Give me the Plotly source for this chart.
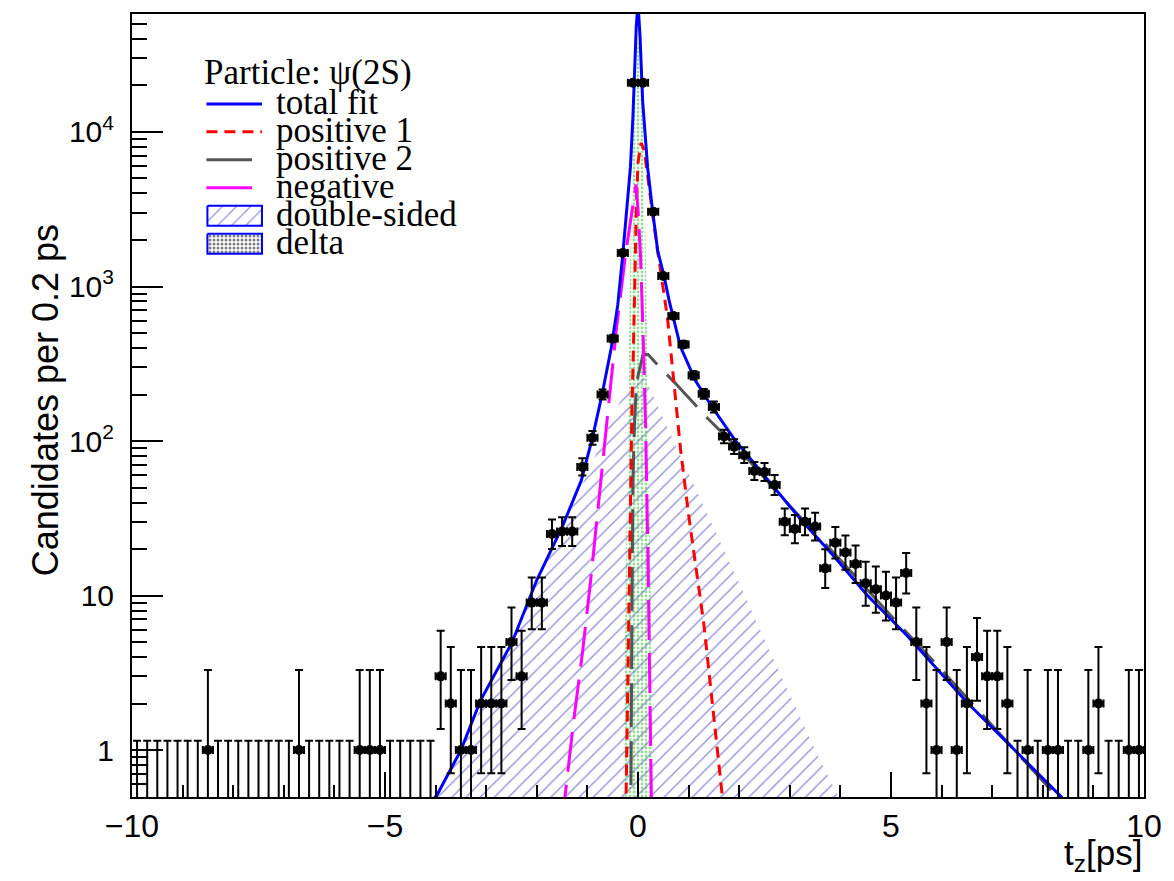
import math
import plotly.graph_objects as go

# ---------------- data ----------------
BIN_LO, BIN_W, N_BINS = -10.0, 0.2, 100
counts = [0, 0, 0, 0, 0, 0, 0, 1, 0, 0,
          0, 0, 0, 0, 0, 0, 1, 0, 0, 0,
          0, 0, 1, 1, 1, 0, 0, 0, 0, 0,
          3, 2, 1, 1, 2, 2, 2, 5, 3, 9,
          9, 25, 26, 26, 68, 105, 200, 460, 1650, 20800,
          20800, 3050, 1170, 645, 422, 266, 202, 166, 107, 92,
          81, 64, 63, 52, 30, 27, 30, 28, 15, 22,
          19, 16, 12, 11, 10, 9, 14, 5, 2, 1,
          5, 1, 2, 4, 3, 3, 2, 0, 1, 0,
          1, 1, 0, 0, 1, 2, 0, 0, 1, 1]

# total fit
tf_x = [-4.05, -3.975, -3.5, -3.11, -2.49, -2.0, -1.5, -1.12, -0.9, -0.71, -0.53, -0.4, -0.3,
        -0.2, -0.15, -0.1, -0.07, -0.035, 0.0, 0.04, 0.092, 0.15, 0.19, 0.288, 0.39, 0.52,
        0.614, 0.84, 1.137, 1.465, 1.92, 2.575, 3.23, 3.88, 4.535, 5.32, 6.5, 8.36, 8.45]
tf_y = [0.48, 0.51, 1.0, 2.1, 4.97, 12.6, 27.7, 55.6, 105, 200, 398, 760, 1620,
        3550, 5900, 12600, 26300, 47900, 69000, 41700, 15800, 8900, 5900, 3090, 1700, 1150,
        813, 407, 245, 166, 101, 55.6, 30.7, 17.8, 10.0, 5.5, 2.04, 0.50, 0.46]
# positive 1
p1_x = [-0.24, -0.2, -0.16, -0.12, -0.09, -0.06, -0.03, 0.0, 0.06, 0.124, 0.37, 0.582,
        0.712, 0.843, 1.006, 1.17, 1.30, 1.667, 1.72]
p1_y = [0.4, 3.2, 32, 160, 400, 1410, 3550, 6300, 8500, 7600, 1860, 630,
        234, 87, 32.2, 13.2, 6.6, 0.50, 0.35]
# positive 2
p2_x = [-0.16, -0.14, -0.12, -0.1, -0.07, -0.04, 0.0, 0.05, 0.1, 0.2, 0.45, 0.78, 1.37,
        2.0, 3.0, 4.0, 5.0, 6.0, 7.0, 8.0, 8.4]
p2_y = [0.25, 0.5, 7.9, 56, 126, 204, 263, 316, 363, 363, 295, 229, 141,
        88, 38, 17, 7.4, 3.3, 1.45, 0.63, 0.45]
# negative
ng_x = [-1.5, -1.44, -1.27, -1.10, -0.935, -0.77, -0.6, -0.43, -0.25, -0.12, -0.04, 0.0,
        0.05, 0.1, 0.15, 0.2, 0.25, 0.28]
ng_y = [0.33, 0.51, 1.56, 4.2, 12.6, 43.4, 148, 519, 1580, 3160, 4570, 3160,
        1580, 500, 126, 15.8, 0.5, 0.2]
# double-sided
ds_x = [-4.2, -4.0, -3.5, -3.0, -2.5, -2.0, -1.5, -1.0, -0.5, -0.25, -0.1, 0.0,
        0.1, 0.25, 0.5, 1.0, 1.5, 2.0, 2.5, 3.0, 3.5, 4.0, 4.2]
ds_y = [0.30, 0.49, 1.0, 2.2, 5.0, 12, 27, 62, 140, 215, 265, 280,
        265, 215, 140, 62, 27, 12, 5.2, 2.3, 1.0, 0.47, 0.31]
# delta
dl_x = [-0.32, -0.25, -0.2, -0.15, -0.1, -0.05, 0.0, 0.05, 0.1, 0.15, 0.2, 0.25, 0.32]
dl_y = [0.2, 8.0, 180, 1900, 10000, 28000, 40000, 28000, 10000, 1900, 180, 8.0, 0.2]

y_tickvals = [1, 10, 100, 1000, 10000]
y_ticktext = ["1", "10", "10<sup>2</sup>", "10<sup>3</sup>", "10<sup>4</sup>"]
x_tickvals = [-10, -5, 0, 5, 10]
x_ticktext = ["\u221210", "\u22125", "0", "5", "10"]

legend_labels = ["total fit", "positive 1", "positive 2", "negative", "double-sided", "delta"]

# ---------------- styling constants ----------------
Y_MIN, Y_MAX = 0.497, 58000
ZERO_ERR_UP = 1.1479
ZERO_DRAW = 0.3
W, H = 1174, 881
L, R, T, B = 132, 22, 13, 84
SANS = "Liberation Sans, Arial, Helvetica, sans-serif"
SERIF = "Liberation Serif, Times New Roman, serif"
HATCH = "rgba(40,40,180,1)"


def pois_cdf(n, mu):
    if mu <= 0:
        return 1.0
    s = 0.0
    lm = math.log(mu)
    for k in range(n + 1):
        s += math.exp(-mu + k * lm - math.lgamma(k + 1))
    return s


def pois_interval(n):
    a = 0.158655
    if n == 0:
        return 0.0, ZERO_ERR_UP
    if n > 150:
        return n - math.sqrt(n), n + math.sqrt(n) + 1
    lo, hi = 0.0, float(n)
    for _ in range(60):
        m = 0.5 * (lo + hi)
        if 1 - pois_cdf(n - 1, m) > a:
            hi = m
        else:
            lo = m
    low = 0.5 * (lo + hi)
    lo, hi = float(n), n + 10 * math.sqrt(n) + 10
    for _ in range(60):
        m = 0.5 * (lo + hi)
        if pois_cdf(n, m) > a:
            lo = m
        else:
            hi = m
    return low, 0.5 * (lo + hi)


centers = [BIN_LO + BIN_W * (k + 0.5) for k in range(N_BINS)]
nz_x, nz_y, nz_up, nz_dn = [], [], [], []
z_x = []
for c, n in zip(centers, counts):
    if n > 0:
        lo, hi = pois_interval(n)
        nz_x.append(c)
        nz_y.append(n)
        nz_up.append(hi - n)
        nz_dn.append(n - lo)
    else:
        z_x.append(c)

fig = go.Figure()

# double-sided hatched
fig.add_trace(go.Scatter(
    x=ds_x, y=ds_y, mode="lines", fill="toself",
    line=dict(width=0, color="rgba(0,0,0,0)"), fillcolor="rgba(0,0,0,0)",
    fillpattern=dict(shape="/", fgcolor=HATCH, bgcolor="rgba(0,0,0,0)",
                     size=10, solidity=0.14),
    hoverinfo="skip", showlegend=False))
# delta dotted
fig.add_trace(go.Scatter(
    x=dl_x, y=dl_y, mode="lines", fill="toself",
    line=dict(width=0, color="rgba(0,0,0,0)"), fillcolor="rgba(0,0,0,0)",
    fillpattern=dict(shape=".", fgcolor="#30b830", bgcolor="rgba(0,0,0,0)",
                     size=4, solidity=0.4),
    hoverinfo="skip", showlegend=False))
# curves
fig.add_trace(go.Scatter(x=p2_x, y=p2_y, mode="lines",
                         line=dict(color="#555555", width=3, dash="44px,14px"),
                         hoverinfo="skip", showlegend=False))
fig.add_trace(go.Scatter(x=p1_x, y=p1_y, mode="lines",
                         line=dict(color="#ff0000", width=3, dash="11px,7px"),
                         hoverinfo="skip", showlegend=False))
fig.add_trace(go.Scatter(x=ng_x, y=ng_y, mode="lines",
                         line=dict(color="#ff00ff", width=3, dash="40px,13px"),
                         hoverinfo="skip", showlegend=False))
fig.add_trace(go.Scatter(x=tf_x, y=tf_y, mode="lines",
                         line=dict(color="#0000ff", width=3),
                         hoverinfo="skip", showlegend=False))
# data: empty bins (error bar only)
fig.add_trace(go.Scatter(
    x=z_x, y=[ZERO_DRAW] * len(z_x), mode="markers",
    marker=dict(size=1, color="rgba(0,0,0,0)"),
    error_y=dict(type="data", symmetric=False,
                 array=[ZERO_ERR_UP - ZERO_DRAW] * len(z_x), arrayminus=[0] * len(z_x),
                 color="black", thickness=2, width=4),
    hoverinfo="skip", showlegend=False))
# data: filled bins
fig.add_trace(go.Scatter(
    x=nz_x, y=nz_y, mode="markers",
    marker=dict(size=10, color="black", symbol="circle"),
    error_y=dict(type="data", symmetric=False, array=nz_up, arrayminus=nz_dn,
                 color="black", thickness=2, width=4),
    error_x=dict(type="constant", value=BIN_W / 2, color="black", thickness=2, width=4),
    hoverinfo="skip", showlegend=False))

# ---------------- manual legend (pixel coordinates on overlay axes) ----------------
leg_text_x = 275
leg_rows = [103, 131, 159, 187, 215, 243]
leg_line_styles = [
    dict(color="#0000ff", width=3, dash="solid", x1=263),
    dict(color="#ff0000", width=3, dash="11px,7px", x1=263),
    dict(color="#555555", width=3, dash="solid", x1=253),
    dict(color="#ff00ff", width=3, dash="solid", x1=253),
]
shapes = []
for yy, st in zip(leg_rows[:4], leg_line_styles):
    shapes.append(dict(type="line", xref="x2", yref="y2", x0=207, x1=st["x1"], y0=yy, y1=yy,
                       line=dict(color=st["color"], width=st["width"], dash=st["dash"])))

box_specs = [(leg_rows[4], "/", HATCH, 10, 0.12),
             (leg_rows[5], ".", "black", 4, 0.45)]
for yy, shp, col, sz, sol in box_specs:
    fig.add_trace(go.Scatter(
        x=[208, 263, 263, 208, 208], y=[yy - 10, yy - 10, yy + 10, yy + 10, yy - 10],
        xaxis="x2", yaxis="y2", mode="lines", fill="toself",
        line=dict(color="#0000ff", width=2), fillcolor="rgba(0,0,0,0)",
        fillpattern=dict(shape=shp, fgcolor=col, bgcolor="white", size=sz, solidity=sol),
        hoverinfo="skip", showlegend=False))

annotations = [dict(text="Particle: \u03c8(2S)", xref="x2", yref="y2", x=203, y=72,
                    xanchor="left", yanchor="middle", showarrow=False,
                    font=dict(family=SERIF, size=35, color="black"))]
for yy, lab in zip(leg_rows, legend_labels):
    annotations.append(dict(text=lab, xref="x2", yref="y2", x=leg_text_x, y=yy - 1,
                            xanchor="left", yanchor="middle", showarrow=False,
                            font=dict(family=SERIF, size=35, color="black")))

pw, ph = W - L - R, H - T - B
annotations.append(dict(text="t<sub>z</sub>[ps]", xref="paper", yref="paper",
                        x=1.0, y=(797 - 855) / ph, xanchor="right", yanchor="middle",
                        showarrow=False, font=dict(family=SANS, size=35, color="black")))
annotations.append(dict(text="Candidates per 0.2 ps", xref="paper", yref="paper",
                        x=(45 - L) / pw, y=(797 - 400) / ph, xanchor="center", yanchor="middle",
                        textangle=-90, showarrow=False,
                        font=dict(family=SANS, size=36, color="black")))

minor_y = [m * 10 ** e for e in range(-1, 5) for m in range(2, 10)
           if Y_MIN < m * 10 ** e < Y_MAX]

fig.update_layout(
    width=W, height=H, autosize=False,
    margin=dict(l=L, r=R, t=T, b=B, pad=0),
    paper_bgcolor="white", plot_bgcolor="white",
    font=dict(family=SANS, size=30, color="black"),
    xaxis=dict(range=[-10, 10], tickmode="array", tickvals=x_tickvals, ticktext=x_ticktext,
               ticks="inside", ticklen=25, tickwidth=2, tickcolor="black",
               minor=dict(dtick=1, tick0=0, ticks="inside", ticklen=12, tickwidth=1.5,
                          tickcolor="black", showgrid=False),
               showline=True, linewidth=2, linecolor="black", mirror=True,
               showgrid=False, zeroline=False, ticklabelstandoff=0,
               tickfont=dict(family=SANS, size=32, color="black")),
    yaxis=dict(type="log", range=[math.log10(Y_MIN), math.log10(Y_MAX)],
               tickmode="array", tickvals=y_tickvals, ticktext=y_ticktext,
               ticks="inside", ticklen=31, tickwidth=2, tickcolor="black",
               minor=dict(tickmode="array", tickvals=minor_y, ticks="inside", ticklen=15,
                          tickwidth=2, tickcolor="black", showgrid=False),
               showline=True, linewidth=2, linecolor="black", mirror=True,
               showgrid=False, zeroline=False, ticklabelstandoff=10,
               tickfont=dict(family=SANS, size=30, color="black")),
    xaxis2=dict(overlaying="x", anchor="y2", range=[L, W - R], visible=False, fixedrange=True),
    yaxis2=dict(overlaying="y", anchor="x2", range=[797, 13], visible=False, fixedrange=True),
    shapes=shapes,
    annotations=annotations,
    showlegend=False,
)

fig.write_html("out.html")
